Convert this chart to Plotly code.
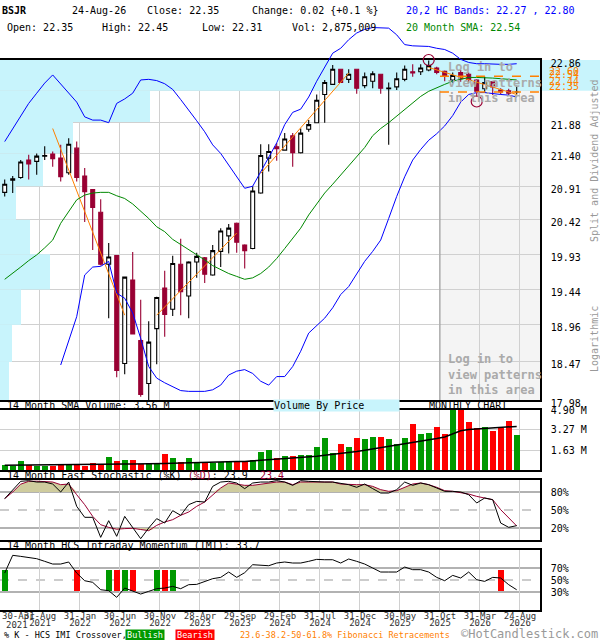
import numpy as np
import plotly.graph_objects as go

W, H = 600, 640
MONO = 'DejaVu Sans Mono'

# ---- monthly candles BSJR, Apr-2021 .. Aug-2026 (index 0 .. 64)
opens = [20.82, 21.00, 21.04, 21.30, 21.28, 21.36, 21.39, 21.33, 21.11, 21.48,
         21.06, 20.86, 20.53, 19.79, 19.91, 18.45, 19.57, 18.75, 18.19, 18.91,
         19.46, 19.17, 19.79, 19.35, 19.82, 19.88, 19.64, 19.97, 20.19, 20.37,
         20.06, 20.01, 20.81, 21.33, 21.50, 21.45, 21.67, 21.41, 21.77, 21.87,
         22.31, 22.47, 22.71, 22.55, 22.71, 22.45, 22.52, 22.63, 22.40, 22.43,
         22.55, 22.67, 22.67, 22.70, 22.73, 22.68, 22.54, 22.66, 22.63, 22.54,
         22.40, 22.51, 22.38, 22.37, 22.35]
highs = [21.01, 21.06, 21.30, 21.38, 21.40, 21.51, 21.43, 21.53, 21.63, 21.58,
         21.18, 20.87, 20.72, 20.09, 19.92, 19.62, 19.96, 19.30, 19.01, 19.34,
         19.70, 19.91, 20.15, 19.83, 19.95, 19.89, 20.06, 20.30, 20.36, 20.38,
         20.07, 20.91, 21.54, 21.54, 21.56, 21.71, 21.71, 21.78, 21.91, 22.31,
         22.54, 22.78, 22.72, 22.71, 22.72, 22.66, 22.68, 22.64, 22.50, 22.66,
         22.77, 22.79, 22.79, 22.85, 22.75, 22.69, 22.66, 22.70, 22.66, 22.55,
         22.59, 22.52, 22.41, 22.40, 22.45]
lows = [20.76, 20.81, 21.02, 21.01, 21.08, 21.30, 21.20, 20.98, 21.08, 20.98,
        20.39, 19.99, 19.77, 19.05, 18.27, 18.31, 18.83, 18.02, 17.98, 18.44,
        18.80, 19.08, 19.09, 19.05, 19.60, 19.53, 19.63, 19.75, 19.94, 19.95,
        19.73, 20.00, 20.80, 21.13, 21.29, 21.44, 21.20, 21.40, 21.73, 21.87,
        21.87, 22.46, 22.49, 22.49, 22.32, 22.41, 22.41, 22.32, 21.53, 22.38,
        22.52, 22.59, 22.62, 22.68, 22.63, 22.52, 22.49, 22.51, 22.49, 22.28,
        22.34, 22.30, 22.31, 22.30, 22.31]
closes = [20.94, 21.02, 21.27, 21.24, 21.36, 21.37, 21.32, 21.05, 21.54, 21.04,
          20.83, 20.60, 19.79, 19.89, 18.36, 19.61, 18.84, 18.05, 18.73, 19.33,
          19.10, 19.80, 19.41, 19.82, 19.90, 19.65, 19.98, 20.26, 20.30, 20.10,
          19.98, 20.84, 21.37, 21.43, 21.47, 21.62, 21.41, 21.71, 21.84, 22.22,
          22.50, 22.71, 22.50, 22.63, 22.41, 22.59, 22.64, 22.41, 22.41, 22.56,
          22.71, 22.65, 22.73, 22.77, 22.66, 22.61, 22.61, 22.56, 22.55, 22.36,
          22.50, 22.43, 22.35, 22.33, 22.35]
last_date = '24-Aug-26'

# monthly volume, millions of shares
volume = [0.44, 0.30, 0.71, 0.38, 0.30, 0.30, 0.30, 0.49, 0.49, 0.49,
          0.30, 0.57, 0.38, 1.03, 0.76, 0.84, 0.84, 0.49, 0.49, 0.46,
          1.31, 1.01, 0.63, 1.01, 0.68, 0.57, 0.57, 0.68, 0.68, 0.73,
          0.73, 0.82, 1.50, 1.63, 1.01, 1.14, 1.14, 1.22, 1.22, 1.88,
          2.64, 1.42, 2.15, 1.91, 2.64, 2.56, 2.72, 2.72, 2.56, 2.15,
          2.64, 3.78, 2.97, 3.05, 3.54, 2.97, 4.90, 4.90, 3.95, 3.46,
          3.54, 3.21, 3.46, 4.03, 2.875009]
vol_sma = [0.38, 0.39, 0.40, 0.41, 0.41, 0.42, 0.42, 0.43, 0.44, 0.44,
           0.45, 0.45, 0.45, 0.46, 0.47, 0.48, 0.48, 0.48, 0.49, 0.50,
           0.54, 0.56, 0.58, 0.62, 0.65, 0.65, 0.66, 0.67, 0.68, 0.69,
           0.70, 0.74, 0.80, 0.86, 0.90, 0.93, 0.96, 1.00, 1.04, 1.12,
           1.20, 1.27, 1.35, 1.43, 1.52, 1.62, 1.72, 1.82, 1.92, 2.03,
           2.13, 2.23, 2.33, 2.45, 2.57, 2.70, 2.95, 3.20, 3.30, 3.34,
           3.37, 3.41, 3.47, 3.52, 3.56]

# 20,2 HC bands and 20 month SMA
upper_band = [21.58, 21.78, 21.97, 22.17, 22.33, 22.49, 22.62, 22.48, 22.33, 22.19,
              21.96, 21.91, 21.91, 21.87, 22.17, 22.24, 22.33, 22.54, 22.55, 22.53,
              22.48, 22.39, 22.23, 22.07, 21.90, 21.73, 21.53, 21.40, 21.23, 21.06,
              20.88, 20.91, 21.13, 21.34, 21.56, 21.84, 22.03, 22.08, 22.27, 22.52,
              22.74, 22.97, 23.05, 23.19, 23.30, 23.36, 23.39, 23.39, 23.38, 23.27,
              23.11, 23.09, 23.08, 23.08, 23.05, 23.03, 22.97, 22.87, 22.82, 22.80,
              22.80, 22.79, 22.79, 22.79, 22.80]
lower_band = [None, None, None, None, None, None, None, 18.43, 18.76, 19.07,
              19.64, 19.75, 19.76, 19.83, 19.39, 19.32, 19.12, 18.78, 18.41, 18.26,
              18.20, 18.15, 18.10, 18.09, 18.09, 18.09, 18.11, 18.17, 18.30, 18.35,
              18.37, 18.32, 18.22, 18.17, 18.28, 18.28, 18.41, 18.61, 18.85, 18.95,
              19.05, 19.19, 19.37, 19.48, 19.66, 19.83, 19.97, 20.13, 20.44, 20.76,
              21.05, 21.30, 21.46, 21.60, 21.70, 21.82, 21.98, 22.19, 22.31, 22.34,
              22.34, 22.32, 22.31, 22.30, 22.27]
sma20 = [19.58, 19.66, 19.75, 19.84, 19.92, 20.02, 20.13, 20.37, 20.54, 20.71,
         20.78, 20.81, 20.82, 20.82, 20.77, 20.73, 20.65, 20.55, 20.44, 20.32,
         20.25, 20.14, 20.07, 20.00, 19.92, 19.85, 19.77, 19.71, 19.66, 19.62,
         19.58, 19.60, 19.66, 19.75, 19.87, 20.01, 20.16, 20.30, 20.49, 20.65,
         20.81, 20.94, 21.08, 21.21, 21.35, 21.49, 21.67, 21.78, 21.87, 21.97,
         22.08, 22.18, 22.28, 22.36, 22.42, 22.47, 22.52, 22.55, 22.58, 22.58,
         22.58, 22.57, 22.56, 22.55, 22.54]

# 14 month fast stochastic
stoch_k = [68.9, 83.9, 97.8, 98.9, 96.6, 96.6, 93.3, 80.0, 96.6, 56.1,
           37.8, 37.8, 4.4, 32.2, 6.1, 39.4, 20.0, 2.2, 20.0, 35.6,
           28.3, 48.9, 41.1, 58.9, 64.4, 63.3, 89.4, 96.6, 97.8, 95.0,
           85.6, 95.0, 96.6, 96.6, 98.9, 96.6, 91.1, 98.9, 97.8, 96.6,
           96.6, 96.6, 95.0, 92.2, 87.8, 93.3, 85.6, 78.3, 78.3, 83.9,
           96.6, 91.1, 95.0, 92.2, 86.7, 81.1, 81.1, 80.0, 75.5, 61.7,
           70.0, 67.2, 28.3, 21.1, 23.9]
stoch_d = [68.9, 80.0, 93.0, 97.8, 98.0, 97.0, 96.6, 92.2, 93.3, 75.5,
           58.9, 39.4, 25.5, 21.0, 18.0, 19.0, 19.5, 17.5, 15.5, 24.4,
           30.0, 33.9, 41.1, 46.7, 56.1, 63.3, 75.5, 86.7, 95.0, 93.3,
           91.1, 91.1, 93.3, 95.0, 96.6, 96.6, 92.2, 96.6, 96.6, 96.6,
           96.6, 96.6, 93.3, 92.2, 92.2, 92.2, 89.4, 83.9, 81.1, 82.2,
           87.8, 93.3, 95.0, 92.2, 87.8, 82.2, 81.1, 79.4, 76.6, 72.7,
           70.0, 67.2, 50.5, 36.6, 23.4]

# 14 month HCS intraday momentum
imi = [61.6, 91.1, 89.4, 87.7, 85.5, 81.1, 76.6, 76.6, 80.0, 61.6,
       48.8, 46.1, 33.8, 32.2, 21.1, 36.6, 31.1, 26.6, 31.1, 35.5,
       36.6, 39.4, 35.5, 42.2, 42.7, 47.7, 52.2, 54.4, 63.3, 54.4,
       62.2, 75.5, 74.4, 73.8, 78.3, 80.0, 78.3, 78.3, 81.1, 84.4,
       83.8, 83.8, 78.3, 85.0, 81.1, 76.6, 70.0, 63.3, 63.3, 63.3,
       71.6, 67.2, 67.2, 63.3, 54.4, 48.8, 57.7, 53.3, 63.3, 50.5,
       47.7, 54.4, 53.3, 42.2, 33.7]
cross_idx = [0, 9, 13, 14, 15, 16, 19, 20, 21, 62]
cross_bull = [True, False, True, False, True, False, True, False, True, False]

# volume by price, per price band (bottom band first)
price_ticks = [17.98, 18.47, 18.96, 19.44, 19.93, 20.42, 20.91, 21.40, 21.88, 22.37, 22.86]
vbp_volume = [9, 12, 21, 50, 30, 16, 43, 73, 150, 600]

# trend lines, fibonacci levels, turning points
trend_from = [6, 19, 32, 53]
trend_from_px = [21.78, 19.09, 21.10, 22.74]
trend_to = [15, 29, 43, 64]
trend_to_px = [19.09, 20.23, 22.65, 22.31]
fib_levels = [22.60, 22.54, 22.44, 22.35]
turn_idx = [53, 59]
turn_px = [22.86, 22.20]

# date axis
tick_idx = [4, 9, 14, 19, 24, 29, 34, 39, 44, 49, 54, 59, 64]
tick_day = ['31-Aug', '31-Jan', '30-Jun', '30-Nov', '28-Apr', '29-Sep', '29-Feb',
            '31-Jul', '31-Dec', '30-May', '31-Oct', '31-Mar', '24-Aug']
tick_year = ['2021', '2022', '2022', '2022', '2023', '2023', '2024',
             '2024', '2024', '2025', '2025', '2026', '2026']
first_day, first_year = '30-Apr', '2021'
login_from = 54

GREEN, RED, CRIMSON = '#009900', '#ff0000', '#990033'
BLUE, SMAG, ORANGE = '#0000ff', '#008800', '#ff8000'
CYAN, GRID, TAN = '#c8f4fc', '#d0d0d0', '#cfcc9e'

n = len(closes)
idx = np.arange(n)

# geometry: 8px per month, first candle 4.7px in, panels 540px wide
X0 = -4.7 / 8
X1 = (540 - 4.7) / 8
GOFF = 0.41
grid_x = [i + GOFF for i in tick_idx]
login_frac = (login_from + GOFF - X0) / (X1 - X0)


def ydom(top, bot):
    return [1 - bot / H, 1 - top / H]


lo, hi = np.log10(17.98), np.log10(22.86)
top_ext = lo + (hi - lo) * 400 / 340

fig = go.Figure()

# volume by price (hidden 'x' scale)
for a, b, v in zip(price_ticks[:-1], price_ticks[1:], vbp_volume):
    fig.add_trace(go.Scatter(x=[0, v, v, 0], y=[a, a, b, b], mode='lines', fill='toself',
                             fillcolor=CYAN, line=dict(width=0), xaxis='x', yaxis='y',
                             hoverinfo='skip'))

fig.add_trace(go.Candlestick(
    x=idx, open=opens, high=highs, low=lows, close=closes, xaxis='x6', yaxis='y',
    increasing=dict(line=dict(color='black', width=1.1), fillcolor='white'),
    decreasing=dict(line=dict(color=CRIMSON, width=1.1), fillcolor=CRIMSON),
    whiskerwidth=0, hoverinfo='skip'))

tx, ty = [], []
for a, pa, b, pb in zip(trend_from, trend_from_px, trend_to, trend_to_px):
    tx += [a, b, None]
    ty += [pa, pb, None]
fig.add_trace(go.Scatter(x=tx, y=ty, mode='lines', line=dict(color=ORANGE, width=1),
                         xaxis='x6', yaxis='y'))

# bands on a taller overlay so the upper band can run past the frame
fig.add_trace(go.Scatter(x=idx, y=sma20, mode='lines', line=dict(color=SMAG, width=1),
                         xaxis='x5', yaxis='y5'))
fig.add_trace(go.Scatter(x=idx, y=upper_band, mode='lines', line=dict(color=BLUE, width=1),
                         xaxis='x5', yaxis='y5'))
fig.add_trace(go.Scatter(x=idx, y=lower_band, mode='lines', line=dict(color=BLUE, width=1),
                         xaxis='x5', yaxis='y5', connectgaps=False))
fig.add_trace(go.Scatter(x=turn_idx, y=turn_px, mode='markers', cliponaxis=False,
                         marker=dict(symbol='circle-open', size=11, color=CRIMSON,
                                     line=dict(width=1.2, color=CRIMSON)),
                         xaxis='x5', yaxis='y5'))

# volume
vcol = np.where(np.array(closes) >= np.array(opens), GREEN, RED)
fig.add_trace(go.Bar(x=idx, y=volume, marker=dict(color=list(vcol), line=dict(width=0)),
                     width=0.75, xaxis='x2', yaxis='y2'))
fig.add_trace(go.Scatter(x=idx, y=vol_sma, mode='lines', line=dict(color='black', width=1.5),
                         xaxis='x2', yaxis='y2'))

# stochastic
sd = np.array(stoch_d)
fig.add_trace(go.Scatter(x=idx, y=np.full(n, 80.0), mode='lines', line=dict(width=0),
                         xaxis='x3', yaxis='y3', hoverinfo='skip'))
fig.add_trace(go.Scatter(x=idx, y=np.maximum(sd, 80), mode='lines', line=dict(width=0),
                         fill='tonexty', fillcolor=TAN, xaxis='x3', yaxis='y3'))
fig.add_trace(go.Scatter(x=idx, y=np.full(n, 20.0), mode='lines', line=dict(width=0),
                         xaxis='x3', yaxis='y3', hoverinfo='skip'))
fig.add_trace(go.Scatter(x=idx, y=np.minimum(sd, 20), mode='lines', line=dict(width=0),
                         fill='tonexty', fillcolor=TAN, xaxis='x3', yaxis='y3'))
fig.add_trace(go.Scatter(x=idx, y=stoch_d, mode='lines', line=dict(color=CRIMSON, width=1),
                         xaxis='x3', yaxis='y3'))
fig.add_trace(go.Scatter(x=idx, y=stoch_k, mode='lines', line=dict(color='black', width=1),
                         xaxis='x3', yaxis='y3'))

# IMI with crossover marks
fig.add_trace(go.Bar(x=cross_idx, y=[35] * len(cross_idx), base=32, width=0.75,
                     marker=dict(color=[GREEN if b else RED for b in cross_bull],
                                 line=dict(width=0)),
                     xaxis='x4', yaxis='y4'))
fig.add_trace(go.Scatter(x=idx, y=imi, mode='lines', line=dict(color='black', width=1),
                         xaxis='x4', yaxis='y4'))
fig.add_trace(go.Scatter(x=idx, y=imi, mode='none', xaxis='x8', yaxis='y4', hoverinfo='skip'))

frame = dict(showline=True, mirror=True, linecolor='black', linewidth=1.5,
             zeroline=False, ticks='')
tickf = dict(family=MONO, size=10, color='black')
datef = dict(family=MONO, size=9, color='#333333')
xdom = [0, 540 / W]
xgrid = dict(domain=xdom, range=[X0, X1], tickvals=grid_x, showticklabels=False,
             showgrid=True, gridcolor=GRID, gridwidth=1, zeroline=False, ticks='')

fig.update_layout(
    width=W, height=H, margin=dict(l=0, r=0, t=0, b=0, pad=0, autoexpand=False),
    paper_bgcolor='white', plot_bgcolor='rgba(0,0,0,0)',
    showlegend=False, hovermode=False, bargap=0,
    xaxis=dict(domain=xdom, range=[0, 540], showgrid=False, showticklabels=False,
               anchor='y', **frame),
    yaxis=dict(domain=ydom(60, 400), type='log', range=[lo, hi], anchor='x', side='right',
               tickvals=price_ticks,
               ticktext=['' if p == 22.37 else f'{p:.2f}' for p in price_ticks],
               showgrid=True, gridcolor=GRID, tickfont=tickf, ticklabelstandoff=7,
               ticklabelshift=3, **frame),
    xaxis6=dict(overlaying='x', anchor='y', rangeslider=dict(visible=False), **xgrid),
    xaxis5=dict(domain=xdom, range=[X0, X1], anchor='y5', visible=False),
    yaxis5=dict(domain=ydom(0, 400), type='log', range=[lo, top_ext], anchor='x5',
                visible=False),
    xaxis2=dict(anchor='y2', **xgrid, showline=True, mirror=True, linecolor='black',
                linewidth=1.5),
    yaxis2=dict(domain=ydom(410, 470), range=[0, 4.90], anchor='x2', side='right',
                tickvals=[1.63, 3.27, 4.90], ticktext=['1.63 M', '3.27 M', '4.90 M'],
                showgrid=True, gridcolor=GRID, tickfont=tickf, ticklabelstandoff=7, **frame),
    xaxis3=dict(anchor='y3', **xgrid, showline=True, mirror=True, linecolor='black',
                linewidth=1.5),
    yaxis3=dict(domain=ydom(480, 540), range=[0, 100], anchor='x3', side='right',
                tickvals=[20, 50, 80], ticktext=['20%', '50%', '80%'], showgrid=False,
                tickfont=tickf, ticklabelstandoff=7, **frame),
    xaxis4=dict(domain=xdom, range=[X0, X1], tickvals=grid_x, ticktext=tick_day,
                showgrid=True, gridcolor=GRID, anchor='y4', ticklabelstandoff=-4,
                tickfont=datef, **frame),
    xaxis8=dict(overlaying='x4', range=[X0, X1], tickvals=grid_x, ticktext=tick_year,
                showgrid=False, showline=False, zeroline=False, ticks='', anchor='y4',
                ticklabelstandoff=6, tickfont=datef),
    yaxis4=dict(domain=ydom(550, 610), range=[0, 100], anchor='x4', side='right',
                tickvals=[30, 50, 70], ticktext=['30%', '50%', '70%'], showgrid=False,
                tickfont=tickf, ticklabelstandoff=7, **frame),
)

# log-in area, price-band spill-over, reference lines
fig.add_shape(type='rect', xref='x domain', yref='y', x0=login_frac, x1=1,
              y0=price_ticks[0], y1=price_ticks[-1], fillcolor='#f4f4f4',
              line=dict(width=0), layer='below')
fig.add_shape(type='line', xref='x domain', yref='y', x0=login_frac, x1=login_frac,
              y0=price_ticks[0], y1=price_ticks[-2], line=dict(color='#999999', width=1),
              layer='above')
fig.add_shape(type='rect', xref='paper', yref='y', x0=540 / W, x1=1,
              y0=price_ticks[-2], y1=price_ticks[-1], fillcolor=CYAN,
              line=dict(width=0), layer='below')
for lvl in (fib_levels[0], fib_levels[-1]):
    fig.add_shape(type='line', xref='x domain', yref='y', x0=login_frac, x1=1, y0=lvl, y1=lvl,
                  line=dict(color=ORANGE, width=1.5, dash='dash'), layer='above')
for ax, levels in (('3', (20, 80)), ('4', (30, 70))):
    for lv in levels:
        fig.add_shape(type='line', xref=f'x{ax} domain', yref=f'y{ax}', x0=0, x1=1, y0=lv, y1=lv,
                      line=dict(color='#999999', width=1.5), layer='below')
    fig.add_shape(type='line', xref=f'x{ax} domain', yref=f'y{ax}', x0=0, x1=1, y0=50, y1=50,
                  line=dict(color='#999999', width=1, dash='dash'), layer='below')


def note(text, x, y, size=10, color='black', xanchor='left', **kw):
    fig.add_annotation(text=text, x=x / W, y=1 - y / H, xref='paper', yref='paper',
                       xanchor=xanchor, yanchor='middle', showarrow=False,
                       font=dict(family=MONO, size=size, color=color), **kw)


chg = closes[-1] - closes[-2]
pct = chg / closes[-2] * 100
note('<b>BSJR</b>', 0, 10)
note(last_date, 70, 10)
note(f'Close: {closes[-1]:.2f}', 145, 10)
note(f'Change: {chg:.2f} {{{pct:+.1f} %}}', 250, 10)
note(f'20,2 HC Bands: {lower_band[-1]:.2f} , {upper_band[-1]:.2f}', 404, 10, color=BLUE)
note(f'Open: {opens[-1]:.2f}', 5, 27)
note(f'High: {highs[-1]:.2f}', 100, 27)
note(f'Low: {lows[-1]:.2f}', 200, 27)
note(f'Vol: {volume[-1] * 1e6:,.0f}', 290, 27)
note(f'20 Month SMA: {sma20[-1]:.2f}', 404, 27, color=SMAG)

note(f'14 Month SMA Volume: {vol_sma[-1]:.2f} M', 5, 405)
note('Volume By Price', 273, 405, bgcolor=CYAN, width=125, align='left', borderpad=0)
note('MONTHLY CHART', 468, 405, xanchor='center')
note(f"14 Month Fast Stochastic (%K) <span style='color:{CRIMSON}'>(%D)</span>: "
     f"{stoch_k[-1]:.1f}\u00a0\u00a0<span style='color:{CRIMSON}'>{stoch_d[-1]:.1f}</span>",
     5, 475)
note(f'14 Month HCS Intraday Momentum (IMI): {imi[-1]:.1f}', 5, 545)

note('Split and Dividend Adjusted', 594, 161, color='#999999', xanchor='center', textangle=-90)
note('Logarithmic', 594, 339, color='#999999', xanchor='center', textangle=-90)

login = '<b>Log in to<br>view patterns<br>in this area</b>'
note(login, 446, 82, size=12, color='#aaaaaa', align='left')
note(login, 446, 374, size=12, color='#aaaaaa', align='left')

for lvl in fib_levels:
    fig.add_annotation(text=f'{lvl:.2f}', x=547 / W, xref='paper', y=np.log10(lvl), yref='y',
                       xanchor='left', yanchor='middle', yshift=5, showarrow=False,
                       font=dict(family=MONO, size=10, color=ORANGE))

note(first_day, 0, 616, size=9, color='#333333')
note(first_year, 4, 625, size=9, color='#333333')

note('% K - HCS IMI Crossover,', 2, 635, size=8.5)
note('Bullish', 125, 635, size=8.5, color='white', bgcolor=GREEN, width=38, align='center',
     borderpad=0)
note('Bearish', 175, 635, size=8.5, color='white', bgcolor=RED, width=38, align='center',
     borderpad=0)
note('23.6-38.2-50-61.8% Fibonacci Retracements', 238, 635, size=8.5, color=ORANGE)
note('\u00a9HotCandlestick.com', 600, 634, size=12, color='#999999', xanchor='right')

fig.write_html('out.html', config={'displayModeBar': False},
               post_script="document.body.style.margin='0';")
